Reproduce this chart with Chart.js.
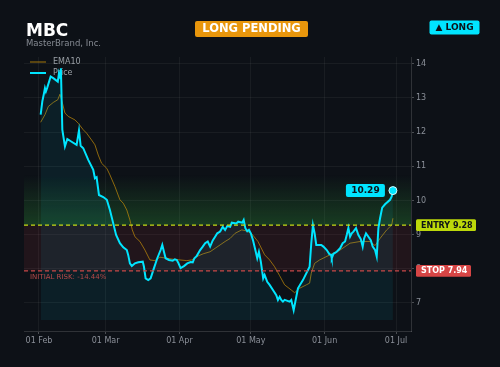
<!DOCTYPE html>
<html>
<head>
<meta charset="utf-8">
<script src="https://cdn.jsdelivr.net/npm/chart.js@4/dist/chart.umd.min.js"></script>
<style>
  html, body { margin: 0; padding: 0; background: #0d1117; }
  #wrap { width: 500px; height: 367px; }
</style>
</head>
<body>
<div id="wrap"><canvas id="myChart" width="500" height="367"></canvas></div>
<script>
// x = day of year 2023 (Feb 1 = 32)
const priceDays = [32.7, 33.4, 34.1, 34.5, 34.9, 35.5, 36.9, 38.0, 39.9, 40.4, 41.0, 41.2, 41.8, 42.9, 43.9, 45.7, 47.8, 48.8, 49.5, 50.6,
  52.7, 54.8, 55.5, 56.2, 57.2, 59.0, 60.5, 61.8, 63.2, 64.4, 66.0, 67.4, 68.9, 69.5, 70.2, 71.0, 72.3, 73.7, 75.6, 76.1,
  76.8, 77.9, 78.9, 80.3, 81.7, 83.1, 83.8, 84.5, 85.2, 86.6, 88.2, 89.1, 89.9, 90.5, 91.5, 92.9, 94.3, 95.7, 96.6, 97.3,
  98.3, 99.7, 100.8, 101.8, 102.9, 103.9, 105.0, 106.0, 106.9, 108.1, 109.2, 110.2, 111.1, 112.3, 113.0, 114.9, 115.7, 117.4, 118.0, 118.7,
  119.5, 120.2, 121.0, 121.9, 122.9, 123.7, 124.4, 125.2, 125.8, 126.2, 126.8, 127.9, 128.9, 130.3, 131.7, 132.4, 133.1, 133.8, 134.5, 135.2,
  137.3, 138.0, 139.0, 140.8, 142.9, 145.7, 146.4, 147.1, 147.8, 148.5, 150.6, 151.5, 152.9, 154.0, 154.7, 155.0, 155.7, 157.1, 158.5, 159.6,
  160.6, 161.3, 162.0, 162.7, 163.4, 164.1, 165.2, 166.2, 167.2, 168.0, 168.6, 169.4, 170.4, 171.4, 172.2, 173.2, 173.9, 174.6, 175.3, 176.2,
  177.4, 179.5, 180.2, 180.7];
const priceValues = [12.51, 12.90, 13.14, 13.29, 13.19, 13.31, 13.63, 13.58, 13.48, 13.73, 13.58, 13.87, 12.07, 11.58, 11.80, 11.72, 11.63, 12.05, 11.60, 11.53,
  11.19, 10.90, 10.65, 10.68, 10.16, 10.10, 10.02, 9.72, 9.33, 8.99, 8.75, 8.63, 8.55, 8.40, 8.16, 8.08, 8.16, 8.19, 8.21, 8.06,
  7.72, 7.67, 7.72, 8.02, 8.31, 8.55, 8.70, 8.50, 8.31, 8.26, 8.24, 8.28, 8.26, 8.18, 8.02, 8.08, 8.16, 8.20, 8.19, 8.31,
  8.38, 8.55, 8.65, 8.75, 8.80, 8.65, 8.83, 8.94, 9.04, 9.09, 9.23, 9.14, 9.25, 9.23, 9.35, 9.33, 9.38, 9.35, 9.43, 9.19,
  9.10, 9.14, 9.04, 8.84, 8.55, 8.31, 8.50, 8.21, 7.92, 7.72, 7.82, 7.62, 7.53, 7.38, 7.23, 7.09, 7.18, 7.09, 7.04, 7.09,
  7.04, 7.09, 6.79, 7.43, 7.67, 8.06, 8.75, 9.28, 9.04, 8.70, 8.70, 8.65, 8.55, 8.43, 8.41, 8.31, 8.44, 8.50, 8.60, 8.75,
  8.80, 8.99, 9.20, 8.94, 9.04, 9.09, 9.19, 8.99, 8.87, 8.65, 8.89, 9.04, 8.94, 8.84, 8.65, 8.55, 8.36, 9.19, 9.48, 9.79,
  9.89, 10.02, 10.12, 10.29];

const emaDays = [32.7, 34.5, 35.9, 38.0, 39.9, 40.8, 41.5, 42.9, 44.3, 47.1, 48.5, 50.6, 52.0, 54.1, 55.5, 56.9, 58.3, 60.5, 61.8, 63.9,
  66.0, 67.4, 68.9, 70.2, 71.2, 72.3, 74.4, 76.5, 78.6, 80.7, 82.8, 85.7, 88.4, 91.2, 94.1, 96.2, 98.3, 101.0, 103.9, 106.0,
  108.1, 110.2, 112.3, 114.4, 117.2, 119.1, 121.2, 124.0, 126.8, 128.9, 131.0, 133.1, 135.2, 138.0, 139.4, 141.5, 144.3, 145.7, 146.4, 147.8,
  149.9, 154.3, 158.5, 162.7, 166.9, 171.1, 173.2, 175.3, 178.1, 180.2, 180.7];
const emaValues = [12.29, 12.51, 12.75, 12.87, 12.95, 13.11, 12.95, 12.56, 12.46, 12.36, 12.26, 12.07, 11.97, 11.77, 11.63, 11.33, 11.09, 10.94, 10.75, 10.41,
  10.02, 9.92, 9.72, 9.43, 9.14, 8.94, 8.80, 8.55, 8.26, 8.24, 8.34, 8.31, 8.28, 8.26, 8.24, 8.26, 8.36, 8.44, 8.50, 8.60,
  8.70, 8.80, 8.89, 9.04, 9.14, 9.11, 9.04, 8.80, 8.41, 8.26, 8.06, 7.80, 7.53, 7.38, 7.30, 7.43, 7.53, 7.58, 7.87, 8.16,
  8.26, 8.41, 8.55, 8.75, 8.80, 8.80, 8.68, 8.89, 9.14, 9.28, 9.48];

const monthTicks = [32, 60, 91, 121, 152, 182];
const monthLabels = ['01 Feb', '01 Mar', '01 Apr', '01 May', '01 Jun', '01 Jul'];
const yTicks = [7, 8, 9, 10, 11, 12, 13, 14];

const entryPrice = 9.28;
const stopPrice = 7.94;
const lastPrice = 10.29;
const ticker = 'MBC';
const company = 'MasterBrand, Inc.';
const FONT = "'DejaVu Sans', sans-serif";

function rrect(ctx, x, y, w, h, r) {
  ctx.beginPath();
  ctx.moveTo(x + r, y);
  ctx.lineTo(x + w - r, y);
  ctx.quadraticCurveTo(x + w, y, x + w, y + r);
  ctx.lineTo(x + w, y + h - r);
  ctx.quadraticCurveTo(x + w, y + h, x + w - r, y + h);
  ctx.lineTo(x + r, y + h);
  ctx.quadraticCurveTo(x, y + h, x, y + h - r);
  ctx.lineTo(x, y + r);
  ctx.quadraticCurveTo(x, y, x + r, y);
  ctx.closePath();
}

// zones + legend under the lines
const zonePlugin = {
  id: 'zones',
  beforeDatasetsDraw(chart) {
    const ctx = chart.ctx;
    const a = chart.chartArea;
    const y = chart.scales.y;
    const ye = y.getPixelForValue(entryPrice);
    const ys = y.getPixelForValue(stopPrice);
    ctx.save();
    const g = ctx.createLinearGradient(0, ye, 0, ye - 50);
    g.addColorStop(0, 'rgba(50,160,60,0.30)');
    g.addColorStop(1, 'rgba(50,160,60,0)');
    ctx.fillStyle = g;
    ctx.fillRect(a.left, ye - 50, a.right - a.left, 50);
    ctx.fillStyle = 'rgba(220,60,70,0.10)';
    ctx.fillRect(a.left, ye, a.right - a.left, ys - ye);

    // legend
    ctx.font = '8px ' + FONT;
    ctx.textBaseline = 'middle';
    ctx.fillStyle = '#9aa0a6';
    ctx.strokeStyle = 'rgba(184,134,11,0.75)';
    ctx.lineWidth = 1.2;
    ctx.beginPath(); ctx.moveTo(30, 62); ctx.lineTo(46, 62); ctx.stroke();
    ctx.fillText('EMA10', 53, 62);
    ctx.strokeStyle = '#00e5ff';
    ctx.lineWidth = 2;
    ctx.beginPath(); ctx.moveTo(30, 73); ctx.lineTo(46, 73); ctx.stroke();
    ctx.fillText('Price', 53, 73);
    ctx.restore();
  }
};

const overlayPlugin = {
  id: 'overlay',
  afterDatasetsDraw(chart) {
    const ctx = chart.ctx;
    const a = chart.chartArea;
    const y = chart.scales.y;
    const ye = y.getPixelForValue(entryPrice);
    const ys = y.getPixelForValue(stopPrice);
    ctx.save();
    ctx.lineWidth = 1.2;
    ctx.setLineDash([4, 3]);
    ctx.strokeStyle = '#c8dc14';
    ctx.beginPath(); ctx.moveTo(a.left, ye); ctx.lineTo(a.right, ye); ctx.stroke();
    ctx.strokeStyle = '#c84848';
    ctx.beginPath(); ctx.moveTo(a.left, ys); ctx.lineTo(a.right, ys); ctx.stroke();
    ctx.setLineDash([]);

    ctx.font = '7px ' + FONT;
    ctx.fillStyle = '#b84a4a';
    ctx.textBaseline = 'middle';
    ctx.fillText('INITIAL RISK: ' + ((stopPrice - entryPrice) / entryPrice * 100).toFixed(2) + '%', 30, ys + 6);

    // last price tag
    const meta = chart.getDatasetMeta(0);
    const pt = meta.data[meta.data.length - 1];
    ctx.fillStyle = '#00e5ff';
    rrect(ctx, pt.x - 47, pt.y - 6.5, 39, 13, 2);
    ctx.fill();
    ctx.fillStyle = '#0d1117';
    ctx.font = 'bold 9px ' + FONT;
    ctx.textAlign = 'center';
    ctx.fillText(lastPrice.toFixed(2), pt.x - 27.5, pt.y + 0.5);
    ctx.restore();
  },
  afterDraw(chart) {
    const ctx = chart.ctx;
    const y = chart.scales.y;
    const ye = y.getPixelForValue(entryPrice);
    const ys = y.getPixelForValue(stopPrice);
    ctx.save();
    ctx.textBaseline = 'middle';
    ctx.font = 'bold 8px ' + FONT;
    ctx.fillStyle = '#bcd80a';
    rrect(ctx, 416, ye - 5.8, 60, 11.6, 1.5); ctx.fill();
    ctx.fillStyle = '#0d1117';
    ctx.fillText('ENTRY ' + entryPrice.toFixed(2), 421, ye + 0.5);
    ctx.fillStyle = '#d64545';
    rrect(ctx, 416, ys - 5.8, 55, 11.6, 1.5); ctx.fill();
    ctx.fillStyle = '#ffffff';
    ctx.fillText('STOP ' + stopPrice.toFixed(2), 421, ys + 0.5);

    // header
    ctx.textBaseline = 'alphabetic';
    ctx.fillStyle = '#ffffff';
    ctx.font = 'bold 17px ' + FONT;
    ctx.fillText(ticker, 26, 36);
    ctx.fillStyle = '#868b93';
    ctx.font = '8.5px ' + FONT;
    ctx.fillText(company, 26, 45.5);

    ctx.fillStyle = '#e8960c';
    rrect(ctx, 195, 21, 113, 16, 2); ctx.fill();
    ctx.fillStyle = '#ffffff';
    ctx.font = 'bold 11.5px ' + FONT;
    ctx.textAlign = 'center';
    ctx.textBaseline = 'middle';
    ctx.fillText('LONG PENDING', 251.5, 29.5);

    ctx.fillStyle = '#00e5ff';
    rrect(ctx, 429.5, 20.5, 50, 14, 2); ctx.fill();
    ctx.fillStyle = '#0d1117';
    ctx.font = 'bold 9px ' + FONT;
    ctx.fillText('\u25B2 LONG', 454.5, 28);
    ctx.restore();
  }
};

const data = {
  datasets: [
    {
      label: 'Price',
      data: priceDays.map((d, i) => ({ x: d, y: priceValues[i] })),
      borderColor: '#00e5ff',
      borderWidth: 2,
      backgroundColor: 'rgba(0,229,255,0.07)',
      fill: { value: 6.5 },
      tension: 0,
      pointRadius: (c) => (c.dataIndex === priceDays.length - 1 ? 4 : 0),
      pointBackgroundColor: '#00e5ff',
      pointBorderColor: '#d8fbff',
      pointBorderWidth: 1
    },
    {
      label: 'EMA10',
      data: emaDays.map((d, i) => ({ x: d, y: emaValues[i] })),
      borderColor: 'rgba(184,134,11,0.75)',
      borderWidth: 1,
      fill: false,
      tension: 0,
      pointRadius: 0
    }
  ]
};

const gridColor = 'rgba(255,255,255,0.05)';
const config = {
  type: 'line',
  data: data,
  options: {
    responsive: false,
    animation: false,
    devicePixelRatio: 1,
    layout: { padding: { top: 57, left: 24, right: 0, bottom: 0 } },
    plugins: {
      legend: { display: false },
      tooltip: { enabled: false }
    },
    scales: {
      x: {
        type: 'linear',
        min: 25.7,
        max: 188.3,
        afterBuildTicks: (s) => { s.ticks = monthTicks.map((v) => ({ value: v })); },
        afterFit: (s) => { s.height = 36; },
        grid: { color: gridColor, tickColor: 'rgba(255,255,255,0.25)', tickLength: 3 },
        border: { color: 'rgba(255,255,255,0.14)' },
        ticks: {
          color: '#8b9099',
          font: { family: FONT, size: 8 },
          padding: 2,
          maxRotation: 0,
          autoSkip: false,
          callback: (v) => monthLabels[monthTicks.indexOf(v)]
        }
      },
      y: {
        position: 'right',
        min: 6.18,
        max: 14.2,
        afterBuildTicks: (s) => { s.ticks = yTicks.map((v) => ({ value: v })); },
        afterFit: (s) => { s.width = 89; },
        grid: { color: gridColor, tickColor: 'rgba(255,255,255,0.25)', tickLength: 3 },
        border: { color: 'rgba(255,255,255,0.14)' },
        ticks: {
          color: '#8b9099',
          font: { family: FONT, size: 8 },
          padding: 2,
          callback: (v) => String(v)
        }
      }
    }
  },
  plugins: [zonePlugin, overlayPlugin]
};

function mainEvent() {
  const target = document.querySelector('#myChart');
  return new Chart(target, config);
}
document.addEventListener('DOMContentLoaded', () => mainEvent());
</script>
</body>
</html>
